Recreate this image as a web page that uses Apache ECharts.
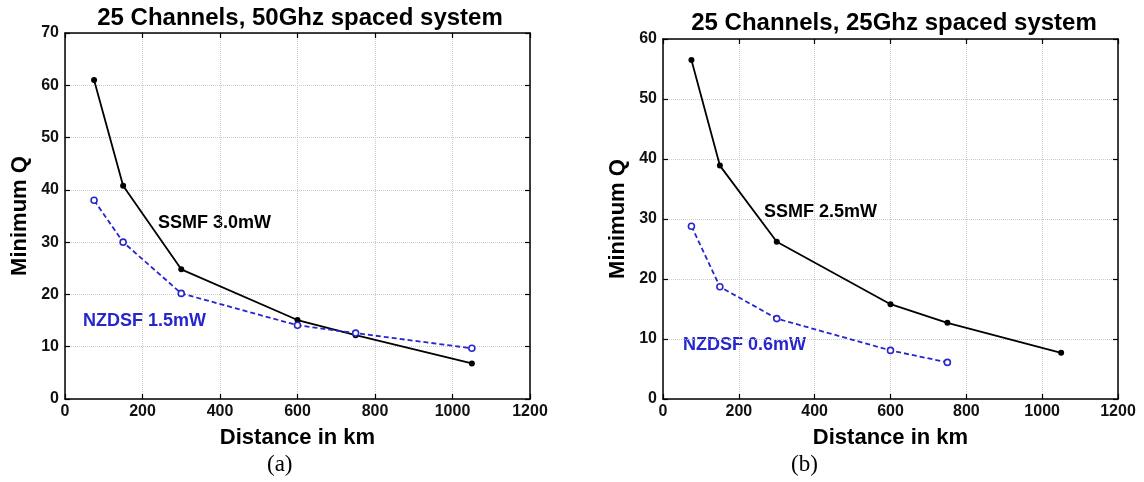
<!DOCTYPE html>
<html><head><meta charset="utf-8">
<script src="https://cdn.jsdelivr.net/npm/echarts@6/dist/echarts.min.js"></script>
<style>html,body{margin:0;padding:0;background:#fff}#c{width:1144px;height:482px}</style>
</head><body><div id="c"></div>
<script>
const distances = [75, 150, 300, 600, 750, 1050];
const ssmfA = [61.0, 40.8, 24.8, 15.1, 12.2, 6.8];
const nzdsfA = [38.0, 30.0, 20.2, 14.1, 12.6, 9.7];
const ssmfB = [56.5, 38.9, 26.2, 15.8, 12.7, 7.7];
const distancesB2 = [75, 150, 300, 600, 750];
const nzdsfB = [28.8, 18.7, 13.4, 8.1, 6.1];
const titles = ['25 Channels, 50Ghz spaced system', '25 Channels, 25Ghz spaced system'];
const captions = ['(a)', '(b)'];
const annots = [['SSMF 3.0mW', 'NZDSF 1.5mW'], ['SSMF 2.5mW', 'NZDSF 0.6mW']];
const xName = 'Distance in km';
const yName = 'Minimum Q';

const font = 'Liberation Sans, Arial, sans-serif';
const BLUE = '#2626cc';
const chart = echarts.init(document.getElementById('c'));
const zip = (xs, ys) => xs.map((x, i) => [x, ys[i]]);

const grids = [
  {left: 65, top: 33, width: 465, height: 366},
  {left: 663, top: 39, width: 455, height: 360}
];
const yMax = [70, 60];
const xAxis = [], yAxis = [];
const lineS = {show: true, onZero: false, lineStyle: {color: '#000', width: 1.5}};
const tickS = {inside: true, length: 5, lineStyle: {color: '#000', width: 1.2}};
const gridS = {show: true, lineStyle: {color: '#cccccc', type: 'dotted', width: 1}};
const lblS = {color: '#111', fontSize: 16, fontWeight: 'bold', fontFamily: font, formatter: v => String(v)};
const nameS = {color: '#000', fontSize: 22, fontWeight: 'bold', fontFamily: font};
grids.forEach((g, i) => {
  xAxis.push({type: 'value', gridIndex: i, min: 0, max: 1200, interval: 200,
    axisLine: lineS, axisTick: tickS, axisLabel: Object.assign({margin: 5}, lblS), splitLine: gridS,
    name: xName, nameLocation: 'middle', nameGap: 28, nameTextStyle: nameS});
  xAxis.push({type: 'value', gridIndex: i, position: 'top', min: 0, max: 1200, interval: 200,
    axisLine: lineS, axisTick: tickS, axisLabel: {show: false}, splitLine: {show: false}});
  yAxis.push({type: 'value', gridIndex: i, min: 0, max: yMax[i], interval: 10,
    axisLine: lineS, axisTick: tickS, axisLabel: Object.assign({margin: 6}, lblS), splitLine: gridS,
    name: yName, nameLocation: 'middle', nameGap: 34, nameTextStyle: nameS});
  yAxis.push({type: 'value', gridIndex: i, position: 'right', min: 0, max: yMax[i], interval: 10,
    axisLine: lineS, axisTick: tickS, axisLabel: {show: false}, splitLine: {show: false}});
});

function blackSeries(xi, yi, data) {
  return {type: 'line', xAxisIndex: xi, yAxisIndex: yi, data, symbol: 'circle', symbolSize: 6,
    lineStyle: {color: '#000', width: 1.8}, itemStyle: {color: '#000'}, animation: false, z: 3};
}
function blueSeries(xi, yi, data) {
  return {type: 'line', xAxisIndex: xi, yAxisIndex: yi, data, symbol: 'circle', symbolSize: 6,
    lineStyle: {color: BLUE, width: 1.8, type: [5, 3]},
    itemStyle: {color: '#fff', borderColor: BLUE, borderWidth: 1.6}, animation: false, z: 4};
}

const tStyle = (t, color) => ({text: t, fill: color, font: 'bold 18px ' + font, textVerticalAlign: 'middle'});
chart.setOption({
  backgroundColor: '#fff',
  grid: grids,
  xAxis, yAxis,
  title: [
    {text: titles[0], left: 295, top: 1, textAlign: 'center',
     textStyle: {color: '#000', fontSize: 24, fontWeight: 'bold', fontFamily: font}},
    {text: titles[1], left: 889, top: 6, textAlign: 'center',
     textStyle: {color: '#000', fontSize: 24, fontWeight: 'bold', fontFamily: font}}
  ],
  series: [
    blackSeries(0, 0, zip(distances, ssmfA)),
    blueSeries(0, 0, zip(distances, nzdsfA)),
    blackSeries(2, 2, zip(distances, ssmfB)),
    blueSeries(2, 2, zip(distancesB2, nzdsfB))
  ],
  graphic: [
    {type: 'text', left: 158, top: 214, style: tStyle(annots[0][0], '#000')},
    {type: 'text', left: 83, top: 312, style: tStyle(annots[0][1], BLUE)},
    {type: 'text', left: 764, top: 203, style: tStyle(annots[1][0], '#000')},
    {type: 'text', left: 683, top: 336, style: tStyle(annots[1][1], BLUE)},
    {type: 'text', left: 267, top: 453, style: {text: captions[0], fill: '#000', font: '23px Liberation Serif, Times New Roman, serif'}},
    {type: 'text', left: 791, top: 453, style: {text: captions[1], fill: '#000', font: '23px Liberation Serif, Times New Roman, serif'}}
  ]
});
</script></body></html>
